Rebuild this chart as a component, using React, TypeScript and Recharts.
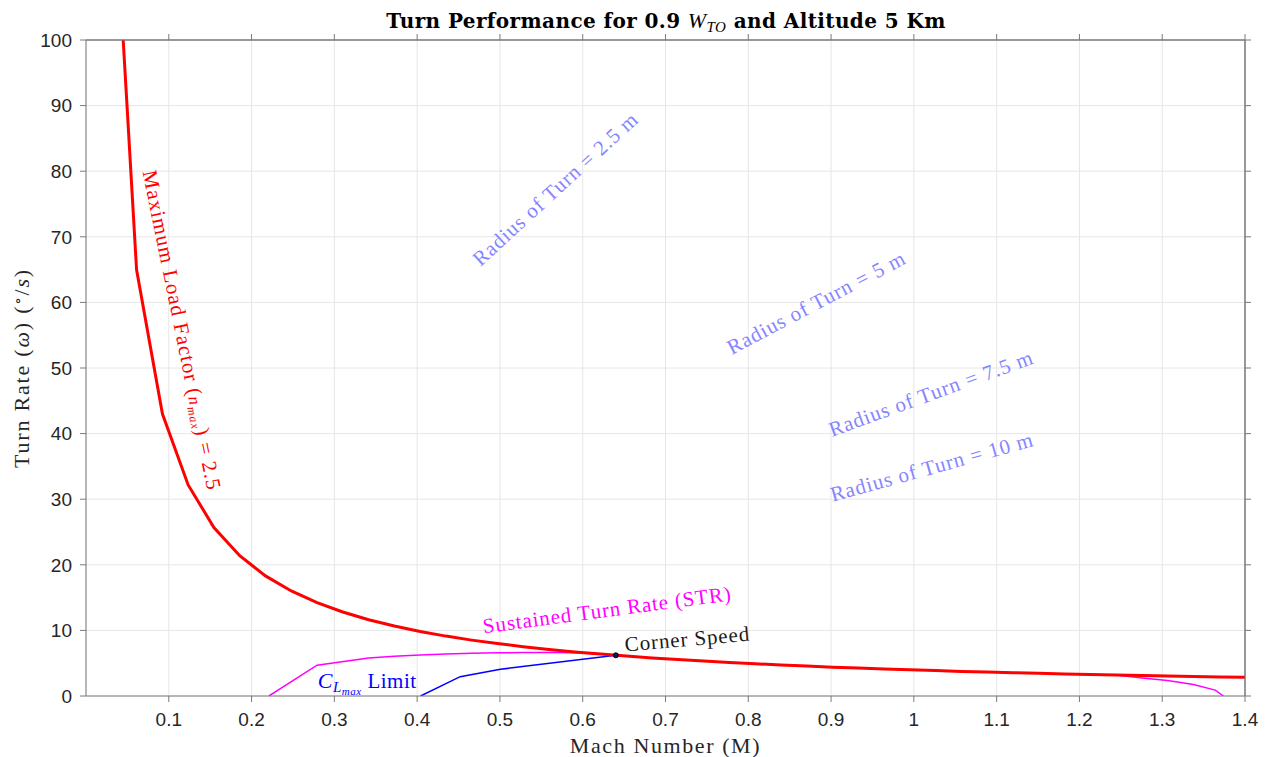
import React from 'react';
import { ComposedChart, Line, XAxis, YAxis, CartesianGrid, Scatter, Label, ReferenceLine } from 'recharts';

// Maximum load factor (n_max = 2.5) turn-rate curve
const nmaxMach = [0.03, 0.0611, 0.0923, 0.1234, 0.1545, 0.1857, 0.2168, 0.248, 0.2791, 0.3102, 0.3414, 0.3725, 0.4036, 0.4348, 0.4659, 0.497, 0.5282, 0.5593, 0.5904, 0.6216, 0.6527, 0.6839, 0.715, 0.7461, 0.7773, 0.8084, 0.8395, 0.8707, 0.9018, 0.9329, 0.9641, 0.9952, 1.0264, 1.0575, 1.0886, 1.1198, 1.1509, 1.182, 1.2132, 1.2443, 1.2754, 1.3066, 1.3377, 1.3688, 1.4];
const nmaxRate = [132.3, 64.97, 43.02, 32.17, 25.69, 21.38, 18.31, 16.01, 14.22, 12.8, 11.63, 10.66, 9.84, 9.13, 8.52, 7.99, 7.52, 7.1, 6.72, 6.39, 6.08, 5.81, 5.55, 5.32, 5.11, 4.91, 4.73, 4.56, 4.4, 4.26, 4.12, 3.99, 3.87, 3.75, 3.65, 3.55, 3.45, 3.36, 3.27, 3.19, 3.11, 3.04, 2.97, 2.9, 2.84];

// Sustained turn rate (STR)
const strMach = [0.221, 0.2791, 0.3414, 0.3725, 0.4036, 0.4348, 0.4659, 0.497, 0.5282, 0.5593, 0.5904, 0.6216, 0.6527, 0.6839, 0.715, 0.7461, 0.7773, 0.8084, 0.8395, 0.8707, 0.9018, 0.9329, 0.9641, 0.9952, 1.0264, 1.0575, 1.0886, 1.1198, 1.1509, 1.182, 1.2132, 1.2443, 1.2754, 1.3066, 1.3377, 1.364, 1.374];
const strRate = [0, 4.7, 5.8, 6.05, 6.25, 6.4, 6.5, 6.6, 6.62, 6.62, 6.58, 6.39, 6.08, 5.81, 5.55, 5.32, 5.11, 4.91, 4.73, 4.56, 4.4, 4.26, 4.12, 3.99, 3.87, 3.75, 3.65, 3.55, 3.45, 3.36, 3.27, 3.19, 2.75, 2.35, 1.75, 0.9, 0];

// C_Lmax limit
const clMach = [0.4042, 0.452, 0.5006, 0.57, 0.64];
const clRate = [0, 2.95, 4.07, 5.15, 6.2];

// Corner speed point
const cornerMach = [0.64];
const cornerRate = [6.2];

const xTicks = [0.1, 0.2, 0.3, 0.4, 0.5, 0.6, 0.7, 0.8, 0.9, 1, 1.1, 1.2, 1.3, 1.4];
const yTicks = [0, 10, 20, 30, 40, 50, 60, 70, 80, 90, 100];
const xMax = 1.4;
const yMax = 100;

// Annotation texts (anchored at data coordinates)
const noteText = ['Radius of Turn = 2.5 m', 'Radius of Turn = 5 m', 'Radius of Turn = 7.5 m', 'Radius of Turn = 10 m', 'Sustained Turn Rate (STR)', 'Corner Speed', 'CL', 'NMAX'];
const noteMach = [0.4765, 0.78, 0.901, 0.902, 0.4806, 0.6515, 0.28, 0.0682];
const noteRate = [65.4, 52.0, 39.5, 29.6, 9.55, 6.77, 1.17, 79.9];
const noteAngle = [-42.5, -27.7, -20, -15.5, -7.6, -5, 0, 78.5];
const noteColor = ['#8585ff', '#8585ff', '#8585ff', '#8585ff', '#ff00ff', '#1a1a1a', '#0000ff', '#ff0000'];

const toPts = (xs: number[], ys: number[]) => xs.map((m, i) => ({ m, w: ys[i] }));
const nmaxData = toPts(nmaxMach, nmaxRate);
const strData = toPts(strMach, strRate);
const clData = toPts(clMach, clRate);
const cornerData = toPts(cornerMach, cornerRate);
const noteData = noteText.map((t, i) => ({ m: noteMach[i], w: noteRate[i], t, a: noteAngle[i], c: noteColor[i] }));

const SERIF = '"Liberation Serif", "DejaVu Serif", serif';
const SANS = '"Liberation Sans", Arial, sans-serif';

const CHART_W = 1262;
const CHART_H = 749;
const MARGIN = { top: 31, right: 24, bottom: 0, left: 0 };
const Y_AXIS_W = 78;
const X_AXIS_H = 61;

const NoteShape = (props: any) => {
  const { cx, cy, payload } = props;
  if (cx == null || cy == null) return null;
  const p = payload;
  const common = {
    x: cx,
    y: cy,
    fill: p.c,
    fontFamily: SERIF,
    fontSize: 21,
    letterSpacing: 0.9,
    transform: `rotate(${p.a}, ${cx}, ${cy})`,
    textAnchor: 'start' as const,
  };
  if (p.t === 'CL') {
    return (
      <text {...common} letterSpacing={0.5}>
        <tspan fontStyle="italic" fontSize={22}>C</tspan>
        <tspan fontStyle="italic" fontSize={15} dy={4}>L</tspan>
        <tspan fontStyle="italic" fontSize={11} dy={3}>max</tspan>
        <tspan dy={-7}>{'  Limit'}</tspan>
      </text>
    );
  }
  if (p.t === 'NMAX') {
    return (
      <text {...common} letterSpacing={1.1}>
        <tspan>{'Maximum Load Factor ('}</tspan>
        <tspan fontStyle="italic" fontSize={17}>n</tspan>
        <tspan fontStyle="italic" fontSize={12} dy={3}>max</tspan>
        <tspan dy={-3}>{') = 2.5'}</tspan>
      </text>
    );
  }
  return <text {...common}>{p.t}</text>;
};

const CornerShape = (props: any) => {
  const { cx, cy } = props;
  if (cx == null || cy == null) return null;
  return <circle cx={cx} cy={cy} r={2.5} fill="#0b1a66" stroke="#000" strokeWidth={1} />;
};

const renderXLabel = (props: any) => {
  const vb = props.viewBox || {};
  return (
    <text x={vb.x + vb.width / 2} y={vb.y + 57} textAnchor="middle" fontFamily={SERIF} fontSize={22} letterSpacing={1.6} fill="#262626">
      Mach Number (M)
    </text>
  );
};

const renderYLabelAndTitle = (props: any) => {
  const vb = props.viewBox || {};
  const x = 21;
  const y = vb.y + vb.height / 2;
  const plotW = CHART_W - MARGIN.left - MARGIN.right - Y_AXIS_W;
  const tx = vb.x + vb.width + plotW / 2;
  const ty = vb.y - 12;
  return (
    <g>
      <text x={x} y={y} transform={`rotate(-90, ${x}, ${y})`} textAnchor="middle" fontFamily={SERIF} fontSize={22} letterSpacing={1.8} fill="#262626">
        <tspan>{'Turn Rate ('}</tspan>
        <tspan fontStyle="italic">ω</tspan>
        <tspan>{') ('}</tspan>
        <tspan fontSize={15} dy={-6}>∘</tspan>
        <tspan dy={6}>/</tspan>
        <tspan fontStyle="italic">s</tspan>
        <tspan>)</tspan>
      </text>
      <text x={tx} y={ty} textAnchor="middle" fontFamily='"DejaVu Serif", serif' fontSize={20} fontWeight="bold" letterSpacing={0.4} fill="#000">
        <tspan>{'Turn Performance for 0.9 '}</tspan>
        <tspan fontStyle="italic" fontWeight="normal" fontFamily={SERIF} fontSize={22}>W</tspan>
        <tspan fontStyle="italic" fontWeight="normal" fontFamily={SERIF} fontSize={15} dy={4}>TO</tspan>
        <tspan dy={-4}>{' and Altitude 5 Km'}</tspan>
      </text>
    </g>
  );
};

const AXIS = '#7a7a7a';

export default function App() {
  return (
    <ComposedChart width={CHART_W} height={CHART_H} margin={MARGIN}>
      <CartesianGrid stroke="#e6e6e6" strokeWidth={1} />
      <XAxis
        dataKey="m"
        type="number"
        domain={[0, xMax]}
        ticks={xTicks}
        allowDataOverflow
        height={X_AXIS_H}
        tickSize={6}
        tickMargin={11}
        stroke={AXIS}
        tick={{ fill: '#262626', fontSize: 19, fontFamily: SANS }}
        tickFormatter={(v: number) => String(v)}
      >
        <Label content={renderXLabel} />
      </XAxis>
      <XAxis
        xAxisId="top"
        orientation="top"
        dataKey="m"
        type="number"
        domain={[0, xMax]}
        ticks={xTicks}
        allowDataOverflow
        height={1}
        tickSize={6}
        stroke={AXIS}
        tickFormatter={() => ''}
      />
      <YAxis
        dataKey="w"
        type="number"
        domain={[0, yMax]}
        ticks={yTicks}
        allowDataOverflow
        width={Y_AXIS_W}
        tickSize={6}
        tickMargin={8}
        stroke={AXIS}
        tick={{ fill: '#262626', fontSize: 19, fontFamily: SANS }}
      >
        <Label content={renderYLabelAndTitle} />
      </YAxis>
      <YAxis
        yAxisId="right"
        orientation="right"
        dataKey="w"
        type="number"
        domain={[0, yMax]}
        ticks={yTicks}
        allowDataOverflow
        width={1}
        tickSize={6}
        stroke={AXIS}
        tickFormatter={() => ''}
      />
      <ReferenceLine y={yMax} stroke={AXIS} strokeWidth={1} />
      <ReferenceLine x={xMax} stroke={AXIS} strokeWidth={1} />
      <Line data={nmaxData} xAxisId="top" yAxisId="right" dataKey="w" type="linear" stroke="none" strokeWidth={0} dot={false} isAnimationActive={false} />
      <Line data={strData} dataKey="w" type="linear" stroke="#ff00ff" strokeWidth={1.5} dot={false} isAnimationActive={false} />
      <Line data={clData} dataKey="w" type="linear" stroke="#0000ff" strokeWidth={1.5} dot={false} isAnimationActive={false} />
      <Line data={nmaxData} dataKey="w" type="linear" stroke="#ff0000" strokeWidth={3} dot={false} isAnimationActive={false} />
      <Scatter data={cornerData} dataKey="w" shape={CornerShape} isAnimationActive={false} />
      <Scatter data={noteData} dataKey="w" shape={NoteShape} isAnimationActive={false} />
    </ComposedChart>
  );
}
